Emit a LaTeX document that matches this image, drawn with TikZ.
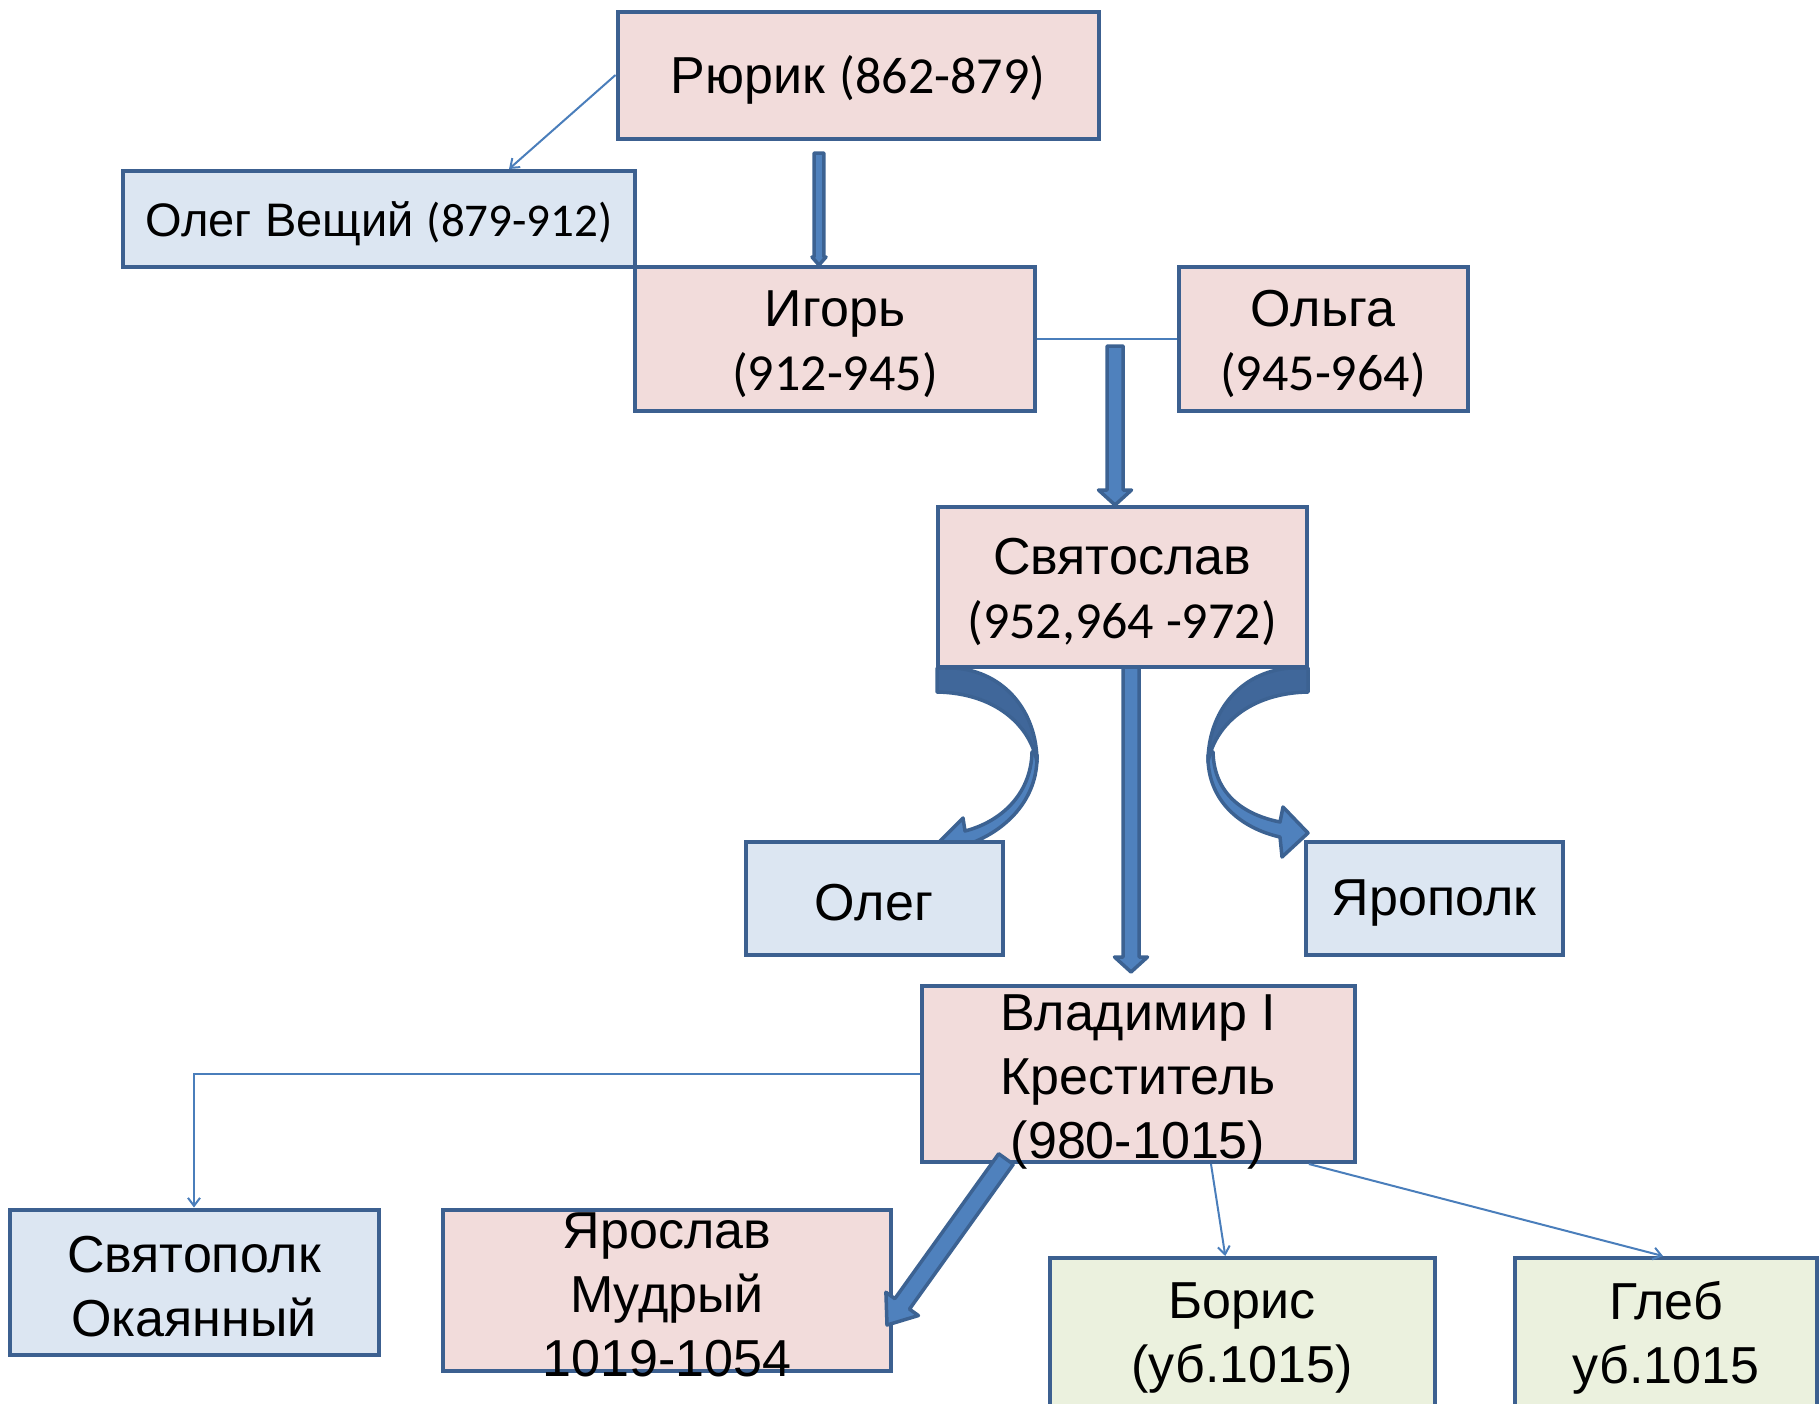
\documentclass[tikz,border=0pt]{standalone}
\usepackage{fontspec}
\setmainfont{Liberation Sans}
\newfontfamily\calibri{Carlito}
\usepackage{tikz}
\usetikzlibrary{arrows.meta,calc}

\definecolor{pinkfill}{RGB}{242,220,219}
\definecolor{bluefill}{RGB}{220,230,242}
\definecolor{greenfill}{RGB}{235,241,222}
\definecolor{boxline}{RGB}{60,96,144}
\definecolor{thinline}{RGB}{74,126,187}
\definecolor{arrfill}{RGB}{79,129,189}
\definecolor{arrdark}{RGB}{64,103,154}
\definecolor{arrline}{RGB}{60,98,146}

% block arrow: from, to, half shaft, half head, head length
\newcommand{\blockarr}[5]{%
  \coordinate (ba-h) at ($(#2)!#5!(#1)$);
  \draw[blockarrow] ($(#1)!#3!90:(#2)$) -- ($(ba-h)!#3!90:(#2)$) -- ($(ba-h)!#4!90:(#2)$) -- (#2)
    -- ($(ba-h)!#4!-90:(#2)$) -- ($(ba-h)!#3!-90:(#2)$) -- ($(#1)!#3!-90:(#2)$) -- cycle;
}

\begin{document}
\begin{tikzpicture}[x=0.5pt,y=0.5pt,yscale=-1,xscale=1,
  box/.style={draw=boxline, line width=2pt, inner sep=0pt},
  pinkbox/.style={box, fill=pinkfill},
  bluebox/.style={box, fill=bluefill},
  greenbox/.style={box, fill=greenfill},
  txt/.style={align=center, inner sep=0pt, yshift=-2.5pt, font=\fontsize{26pt}{32pt}\selectfont},
  thinline/.style={draw=thinline, line width=1pt},
  thinarrow/.style={thinline, -{Straight Barb[length=4pt,width=6pt]}},
  blockarrow/.style={draw=arrline, fill=arrfill, line width=1.75pt, line join=round},
  curvedark/.style={draw=arrline, fill=arrdark, line width=1.75pt, line join=round},
  curvelight/.style={draw=arrline, fill=arrfill, line width=1.75pt, line join=round}]
\useasboundingbox (0,0) rectangle (1819,1403);

%Curve Lines: Святослав -> Олег
\path[curvelight] (1037,755) .. controls (1038,800) and (1005,832) .. (966,845) -- (964,866) -- (938,843) -- (963,818) -- (965,831) .. controls (1000,822) and (1031,795) .. (1032,752) -- cycle;
\path[curvedark] (937,668) -- (955,668) .. controls (1005,672) and (1037,712) .. (1037,762) .. controls (1030,725) and (995,693) .. (937,692) -- cycle;
%Curve Lines: Святослав -> Ярополк
\path[curvelight] (1208,755) .. controls (1207,800) and (1240,828) .. (1280,837) -- (1282,857) -- (1308,833) -- (1283,807) -- (1280,822) .. controls (1245,815) and (1214,795) .. (1213,752) -- cycle;
\path[curvedark] (1308,668) -- (1290,668) .. controls (1240,672) and (1208,712) .. (1208,762) .. controls (1215,725) and (1250,693) .. (1308,692) -- cycle;

%Shape: Rectangle
\node[pinkbox, minimum width=240.5pt, minimum height=63.5pt] (rurik) at (858,75) {};
\node[bluebox, minimum width=256pt, minimum height=48pt] (olegv) at (379,219) {};
\node[pinkbox, minimum width=200pt, minimum height=72pt] (igor) at (835,339) {};
\node[pinkbox, minimum width=144.5pt, minimum height=72pt] (olga) at (1323,339) {};
\node[pinkbox, minimum width=184.5pt, minimum height=80pt] (svyat) at (1122,587) {};
\node[bluebox, minimum width=128.5pt, minimum height=56.5pt] (oleg) at (874,898) {};
\node[bluebox, minimum width=128.5pt, minimum height=56.5pt] (yaropolk) at (1434,898) {};
\node[pinkbox, minimum width=216.5pt, minimum height=88pt] (vlad) at (1138,1074) {};
\node[bluebox, minimum width=184.5pt, minimum height=72.5pt] (svyatopolk) at (194,1282) {};
\node[pinkbox, minimum width=224pt, minimum height=80.5pt] (yaroslav) at (667,1290) {};
\node[greenbox, minimum width=192.5pt, minimum height=75pt] (boris) at (1242,1333) {};
\node[greenbox, minimum width=151pt, minimum height=75pt] (gleb) at (1666,1333) {};

% Text Node
\node[txt] (rurik-t) at (rurik) {Рюрик {\calibri (862-879)}};
\node[txt, font=\fontsize{23.5pt}{28pt}\selectfont] (olegv-t) at (olegv) {Олег Вещий {\calibri (879-912)}};
\node[txt] (igor-t) at (igor) {Игорь\\{\calibri (912-945)}};
\node[txt] (olga-t) at (olga) {Ольга\\{\calibri (945-964)}};
\node[txt] (svyat-t) at (svyat) {Святослав\\{\calibri (952,964 -972)}};
\node[txt] (oleg-t) at (oleg) {Олег};
\node[txt] (yaropolk-t) at (yaropolk) {Ярополк};
\node[txt, yshift=-1.5pt] (vlad-t) at (vlad) {Владимир I\\Креститель\\(980-1015)};
\node[txt] (svyatopolk-t) at (svyatopolk) {Святополк\\Окаянный};
\node[txt] (yaroslav-t) at (yaroslav) {Ярослав\\Мудрый\\1019-1054};
\node[txt] (boris-t) at (boris) {Борис\\(уб.1015)};
\node[txt] (gleb-t) at (gleb) {Глеб\\уб.1015};

%Straight Lines
\draw[thinarrow] (rurik.west) -- ($(olegv.north west)!0.752!(olegv.north east)$);
\draw[thinline] (igor.east) -- (olga.west);
\draw[thinarrow] (vlad.west) -| (svyatopolk.north);
\draw[thinarrow] ($(vlad.south west)!0.667!(vlad.south east)$) -- ($(boris.north west)!0.457!(boris.north east)$);
\draw[thinarrow] ($(vlad.south west)!0.891!(vlad.south east)$) -- ($(gleb.north west)!0.49!(gleb.north east)$);

%Block Arrows
\coordinate (r2i) at (819,153);
\coordinate (r2i-b) at (r2i |- igor.north);
\blockarr{r2i}{r2i-b}{2.4pt}{3.5pt}{4pt}
\coordinate (io2s) at (1115,346);
\coordinate (io2s-b) at (io2s |- svyat.north);
\blockarr{io2s}{io2s-b}{4pt}{8.25pt}{7.5pt}
\coordinate (s2v) at (1131,667);
\coordinate (s2v-b) at (1131,972);
\blockarr{s2v}{s2v-b}{4pt}{8.25pt}{7.5pt}
\coordinate (v2y) at (1006,1159);
\coordinate (v2y-b) at (887,1325);
\blockarr{v2y}{v2y-b}{4.5pt}{10pt}{13pt}

\end{tikzpicture}
\end{document}
